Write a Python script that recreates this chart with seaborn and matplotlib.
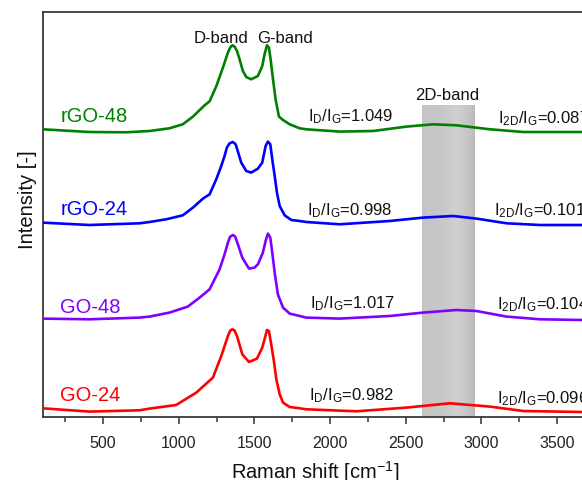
import numpy as np
import pandas as pd
import matplotlib
matplotlib.use("Agg")
import matplotlib.pyplot as plt
from matplotlib.ticker import MultipleLocator, NullLocator
from matplotlib.colors import LinearSegmentedColormap
import seaborn as sns

# ---------------- data ----------------
rgo48_x = [100, 410, 650, 807, 939, 1027, 1094, 1171, 1204, 1248, 1292, 1325, 1340, 1354, 1369,
           1385, 1402, 1424, 1446, 1479, 1523, 1552, 1567, 1583, 1596, 1607, 1623, 1640, 1662,
           1689, 1733, 1799, 1843, 2063, 2284, 2505, 2681, 2835, 3056, 3276, 3664, 4000]
rgo48_y = [288, 285.3, 285, 286.3, 289, 293, 300.7, 312, 316, 331, 349.7, 364.7, 369.7, 372, 370.7,
           366.3, 358, 346.3, 340.3, 338, 341.3, 351.3, 363, 372, 369.7, 358, 338, 318, 300.7,
           297.3, 293, 289, 288, 285.7, 286.3, 290.7, 293, 292, 288, 285.3, 285.3, 285.3]

rgo24_x = [100, 410, 741, 807, 917, 1027, 1094, 1160, 1204, 1248, 1281, 1303, 1318, 1336, 1358,
           1376, 1393, 1413, 1446, 1479, 1523, 1552, 1574, 1589, 1605, 1618, 1634, 1649, 1667,
           1700, 1744, 1799, 1843, 2063, 2394, 2615, 2813, 2967, 3166, 3386, 3664, 4000]
rgo24_y = [194.7, 192.3, 194, 195.3, 198, 202, 209.7, 218.7, 223, 238, 251.3, 261.3, 269.7, 274, 275.3,
           273, 264.7, 254.7, 246.3, 244.7, 248.7, 254.7, 271.3, 275.7, 273, 258, 241.3, 224.7, 211.3,
           202, 197.3, 196.3, 195.3, 193, 196.3, 199.7, 201.3, 198.7, 194, 192.3, 192.3, 192.3]

go48_x = [100, 410, 741, 807, 939, 1060, 1138, 1204, 1270, 1303, 1325, 1340, 1358, 1373, 1391,
          1420, 1464, 1501, 1523, 1556, 1574, 1589, 1605, 1618, 1634, 1655, 1689, 1733, 1799,
          1843, 2063, 2394, 2615, 2835, 2967, 3166, 3386, 3664, 4000]
go48_y = [98.7, 98, 99.7, 100.7, 104.7, 110.7, 119.7, 128, 148, 163, 174.7, 180.7, 182.3, 180.7, 173,
          159.7, 148.7, 149.7, 153, 164.7, 176.3, 183.7, 179.7, 164.7, 144.7, 123, 109.7, 103.7, 101.3,
          99.7, 98.7, 101.3, 104.7, 107.3, 106.3, 100.7, 98, 97.3, 97.3]

go24_x = [100, 410, 741, 807, 983, 1116, 1226, 1281, 1325, 1340, 1354, 1369, 1385, 1420, 1464,
          1517, 1552, 1570, 1583, 1596, 1611, 1627, 1645, 1667, 1689, 1733, 1799, 1843, 2174,
          2505, 2791, 3056, 3276, 3664, 4000]
go24_y = [9, 5.7, 7, 8.7, 12.3, 24.7, 39.7, 61.3, 81.3, 86.7, 88, 86.7, 81.3, 63, 55.3,
          58.7, 69.7, 79.7, 87.3, 86.3, 73, 58, 38, 23, 14.7, 10.3, 9, 8, 6,
          9.7, 14, 10.7, 6.3, 5.3, 5.3]

samples = ["rGO-48", "rGO-24", "GO-48", "GO-24"]
colors = ["#008000", "#0000ff", "#8000ff", "#ff0000"]
id_ig = ["1.049", "0.998", "1.017", "0.982"]
i2d_ig = ["0.087", "0.101", "0.104", "0.096"]
band_2d = [2610, 2955]
xticks = [500, 1000, 1500, 2000, 2500, 3000, 3500]

series_x = [rgo48_x, rgo24_x, go48_x, go24_x]
series_y = [rgo48_y, rgo24_y, go48_y, go24_y]

# ---------------- style ----------------
sns.set_style("ticks")
plt.rcParams["font.family"] = ["Liberation Sans", "DejaVu Sans"]
plt.rcParams["mathtext.fontset"] = "custom"
plt.rcParams["mathtext.rm"] = "Liberation Sans"
plt.rcParams["mathtext.it"] = "Liberation Sans"
plt.rcParams["mathtext.default"] = "regular"

W, H = 582, 481
fig = plt.figure(figsize=(W / 100, H / 100), dpi=100)
# axes extends past right edge of the figure (reference is cropped)
x_left_px, x_right_px = 42.5, 632.8
ax = fig.add_axes([x_left_px / W, (H - 418.3) / H, (x_right_px - x_left_px) / W, (418.3 - 13.3) / H])

# 2D-band shaded gradient region
grad = np.linspace(0, 1, 200)[None, :]
cmap = LinearSegmentedColormap.from_list(
    "band", [(0.0, "#c4c4c4"), (0.4, "#c8c8c8"), (0.65, "#d0d0d0"), (0.9, "#c4c4c4"), (1.0, "#bababa")])
ax.imshow(grad, extent=[band_2d[0], band_2d[1], 0, 311.3], aspect="auto", cmap=cmap,
          origin="lower", zorder=0, interpolation="bilinear")

for sx, sy, c in zip(series_x, series_y, colors):
    df = pd.DataFrame({"x": sx, "y": sy})
    sns.lineplot(data=df, x="x", y="y", color=c, lw=1.9, ax=ax, estimator=None,
                 zorder=3, solid_capstyle="round", solid_joinstyle="round")

ax.set_xlim(100, 4000)
ax.set_ylim(0, 405)
ax.xaxis.set_major_locator(MultipleLocator(500))
ax.xaxis.set_minor_locator(MultipleLocator(250))
ax.set_xticks(xticks + [4000])
ax.set_xticklabels([str(t) for t in xticks] + [""])
ax.yaxis.set_major_locator(NullLocator())
ax.tick_params(axis="x", which="major", direction="out", length=5, width=1.1,
               labelsize=11.5, pad=8, color="#333333", labelcolor="#222222")
ax.tick_params(axis="x", which="minor", direction="out", length=3.5, width=1.1, color="#333333")
for s in ax.spines.values():
    s.set_color("#3a3a3a")
    s.set_linewidth(1.3)
    s.set_visible(True)

ax.set_xlabel("Raman shift [cm$^{-1}$]", fontsize=14.5, color="#111111")
ax.xaxis.set_label_coords((315 - x_left_px) / (x_right_px - x_left_px), -0.1)
ax.set_ylabel("Intensity [-]", fontsize=14.5, color="#111111")
ax.yaxis.set_label_coords(-0.009, 0.54)

# sample labels
lab_base = [296.3, 203, 105, 17]
for name, c, yb in zip(samples, colors, lab_base):
    ax.text(218, yb, name, color=c, fontsize=14.5, ha="left", va="baseline")

# ratio labels
left_x = [1854, 1847, 1865, 1860]
left_base = [297.3, 203, 110.3, 18]
right_x = [3110, 3082, 3100, 3104]
right_base = [295.3, 203, 108.7, 15.3]
for i in range(4):
    ax.text(left_x[i], left_base[i], r"$I_D/I_G$=" + id_ig[i], fontsize=12, ha="left",
            va="baseline", color="#111111", zorder=5)
    ax.text(right_x[i], right_base[i], r"$I_{2D}/I_G$=" + i2d_ig[i], fontsize=12, ha="left",
            va="baseline", color="#111111", zorder=5, clip_on=False)

ax.text(1277, 375.3, "D-band", fontsize=12, ha="center", va="baseline", color="#111111")
ax.text(1699, 375.3, "G-band", fontsize=12, ha="center", va="baseline", color="#111111")
ax.text(2774, 318, "2D-band", fontsize=12, ha="center", va="baseline", color="#111111")

fig.savefig("out.png", dpi=100)
